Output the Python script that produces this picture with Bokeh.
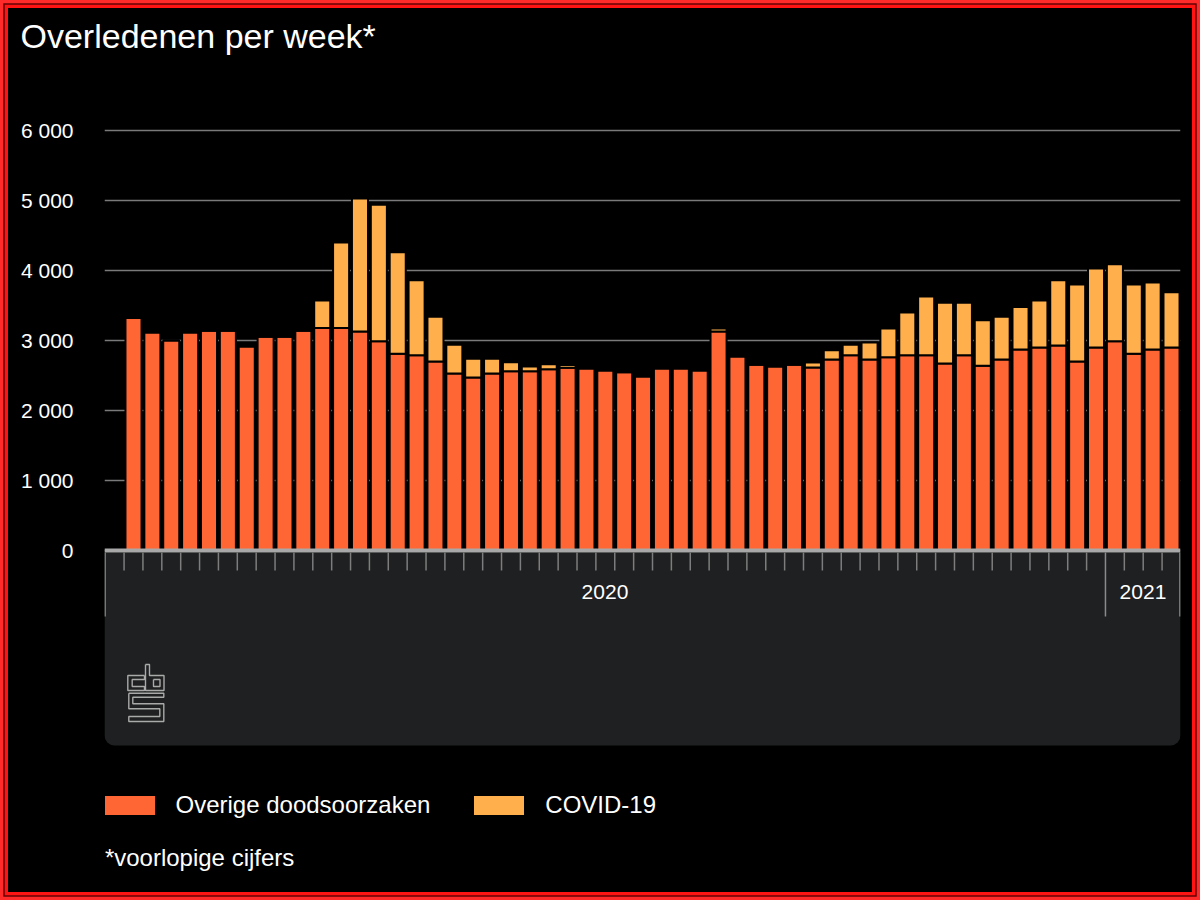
import datetime as dt
from bokeh.plotting import figure
from bokeh.models import ColumnDataSource, Range1d, FixedTicker, Legend, LegendItem
from bokeh.core.properties import value
from bokeh.embed import file_html
from bokeh.resources import INLINE

# ---------------- data ----------------
year_weeks = [(2020, w) for w in range(1, 54)] + [(2021, w) for w in range(1, 4)]
weeks = [f"{y}-W{w:02d}" for y, w in year_weeks]
overige = [3320, 3115, 3000, 3115, 3140, 3140, 2915, 3055, 3055, 3140,
           3180, 3180, 3130, 2990, 2810, 2790, 2700, 2530, 2470, 2530,
           2560, 2560, 2590, 2610, 2600, 2570, 2545, 2485, 2600, 2600,
           2570, 3130, 2770, 2655, 2630, 2655, 2615, 2730, 2790, 2730,
           2760, 2790, 2790, 2670, 2790, 2640, 2730, 2870, 2900, 2930,
           2700, 2900, 2990, 2810, 2870, 2900]
covid = [0, 0, 0, 0, 0, 0, 0, 0, 0, 0,
         390, 1220, 1900, 1950, 1450, 1070, 640, 410, 270, 210,
         130, 70, 70, 40, 0, 0, 0, 0, 0, 0,
         0, 40, 0, 0, 0, 0, 70, 130, 150, 240,
         410, 610, 840, 870, 750, 650, 610, 610, 670, 930,
         1100, 1130, 1100, 990, 960, 790]
series_names = ["Overige doodsoorzaken", "COVID-19"]
y_ticks = [0, 1000, 2000, 3000, 4000, 5000, 6000]
y_tick_labels = ["0", "1 000", "2 000", "3 000", "4 000", "5 000", "6 000"]
title_text = "Overledenen per week*"
footnote_text = "*voorlopige cijfers"

# year each week belongs to on the time axis (year of the week's last day)
week_year = [dt.date.fromisocalendar(y, w, 7).year for y, w in year_weeks]
n = len(weeks)

# ---------------- geometry helpers (reference pixel -> data) ----------------
BAR_PX = 18.873          # pixels per week
Y_PX = 0.07              # pixels per death
X0_REF, Y0_REF = 133.0, 550.0


def px(ref_x):
    return (ref_x - X0_REF) / BAR_PX


def py(ref_y):
    return (Y0_REF - ref_y) / Y_PX


FONT = "Liberation Sans"
C_OVERIGE = "#ff6633"
C_COVID = "#ffb04d"

x_left, x_right = px(104), px(1180)

p = figure(width=1184, height=884, output_backend="svg", toolbar_location=None,
           x_range=Range1d(x_left, x_right), y_range=Range1d(py(880), py(58)),
           min_border_left=96, min_border_right=12, min_border_top=50,
           min_border_bottom=12, background_fill_color="black",
           border_fill_color="black", outline_line_color=None)
p.styles = {"margin": "8px", "background-color": "black",
            "box-shadow": "0 0 0 3.3px #ff1414, 0 0 0 4.7px #5a0000, 0 0 0 8px #ff2a2a"}

# title
p.title.text = title_text
p.title.text_font = FONT
p.title.text_font_size = "34px"
p.title.text_font_style = "normal"
p.title.text_color = "white"
p.title.align = "left"
p.title.offset = -84
p.title.standoff = 8

# axes
p.xaxis.visible = False
p.xgrid.visible = False
p.yaxis.ticker = FixedTicker(ticks=y_ticks)
p.yaxis.major_label_overrides = dict(zip(y_ticks, y_tick_labels))
p.yaxis.axis_line_color = None
p.yaxis.major_tick_line_color = None
p.yaxis.minor_tick_line_color = None
p.yaxis.major_tick_out = 0
p.yaxis.major_label_standoff = 31
p.yaxis.major_label_text_font = FONT
p.yaxis.major_label_text_font_size = "21px"
p.yaxis.major_label_text_color = "white"
p.ygrid.ticker = FixedTicker(ticks=y_ticks)
p.ygrid.grid_line_color = "#7a7a7a"
p.ygrid.grid_line_width = 1.5

# bottom panel
p.quad(left=[x_left], right=[x_right], top=[py(552)], bottom=[py(745)],
       fill_color="#1f2021", line_color=None, border_radius=(0, 0, 10, 10))

# bars
src = ColumnDataSource(dict(x=list(range(n)), week=weeks, overige=overige, covid=covid))
bars = p.vbar_stack(["overige", "covid"], x="x", width=0.85, source=src,
                    fill_color=[C_OVERIGE, C_COVID], line_color="black", line_width=2)

# axis baseline
p.segment(x0=[x_left], x1=[x_right], y0=[0], y1=[0], line_color="#a8a8a8", line_width=4)

# week ticks and year separators
sx, sy0, sy1 = [], [], []
lx, ly0, ly1 = [x_left + 0.03, x_right - 0.03], [py(552)] * 2, [py(616)] * 2
for i in range(n):
    b = i - 0.5
    if i > 0 and week_year[i] != week_year[i - 1]:
        lx.append(b); ly0.append(py(552)); ly1.append(py(616))
    else:
        sx.append(b); sy0.append(py(552)); sy1.append(py(570))
p.segment(x0=sx, x1=sx, y0=sy0, y1=sy1, line_color="#7d7d7d", line_width=1.5)
p.segment(x0=lx, x1=lx, y0=ly0, y1=ly1, line_color="#8a8a8a", line_width=1.5)

# year labels
years = sorted(set(week_year))
yl_x, yl_t = [], []
for k, yr in enumerate(years):
    idx = [i for i in range(n) if week_year[i] == yr]
    lo = x_left if k == 0 else idx[0] - 0.5
    hi = x_right if k == len(years) - 1 else idx[-1] + 0.5
    yl_x.append((lo + hi) / 2)
    yl_t.append(str(yr))
p.text(x=yl_x, y=[py(591)] * len(yl_x), text=yl_t, text_align="center",
       text_baseline="middle", text_font=value(FONT), text_font_size="21px",
       text_color="white")

# cbs logo (decorative outline)
logo_paths = [
    [(17, 11), (0.3, 11), (0.3, 26), (17, 26), (17, 22), (4.7, 22), (4.7, 15), (17, 15), (17, 11)],
    [(18, 0), (22, 0), (22, 11), (36.5, 11), (36.5, 26), (18, 26), (18, 0)],
    [(26, 15), (32.5, 15), (32.5, 22), (26, 22), (26, 15)],
    [(1.3, 28.7), (36.3, 28.7), (36.3, 32.7), (5.3, 32.7), (5.3, 39.3), (36.3, 39.3),
     (36.3, 57), (1.3, 57), (1.3, 52), (32.3, 52), (32.3, 44.3), (1.3, 44.3), (1.3, 28.7)],
]
p.multi_line(xs=[[px(127 + a) for a, _ in path] for path in logo_paths],
             ys=[[py(664 + b) for _, b in path] for path in logo_paths],
             line_color="#a9a9a9", line_width=1.4)

# footnote
p.text(x=[x_left + 0.02], y=[py(857)], text=[footnote_text], text_align="left",
       text_baseline="middle", text_font=value(FONT), text_font_size="24px",
       text_color="white")

# legend
legend = Legend(items=[LegendItem(label=series_names[0], renderers=[bars[0]]),
                       LegendItem(label=series_names[1], renderers=[bars[1]])],
                orientation="horizontal", location=(-7.5, 61), glyph_width=65,
                glyph_height=26, label_standoff=14, spacing=36, padding=0, margin=0,
                background_fill_alpha=0, border_line_color=None,
                label_text_color="white", label_text_font=FONT,
                label_text_font_size="24px")
p.add_layout(legend)

open("out.html", "w").write(file_html(p, INLINE))
